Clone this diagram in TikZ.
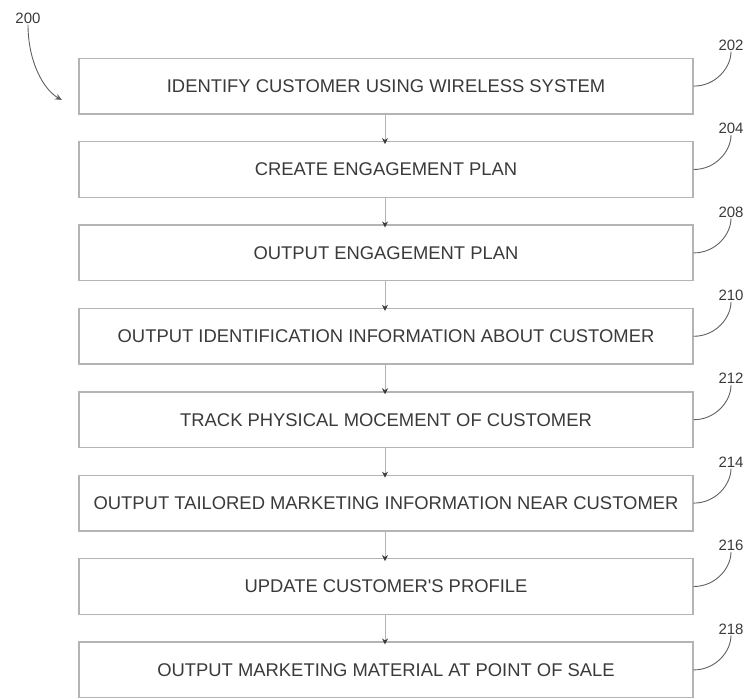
\documentclass[tikz,border=0pt]{standalone}
\usepackage{fontspec}
\setmainfont{Liberation Sans}
\usetikzlibrary{arrows.meta}
\definecolor{inkgray}{HTML}{3A3A3A}
\definecolor{framegray}{HTML}{B4B4B4}
\begin{document}
\begin{tikzpicture}[x=1pt,y=-1pt,
  stepbox/.style={draw=framegray,line width=1.4pt,minimum width=614pt,minimum height=55.5pt,
    inner sep=0pt,font=\fontsize{18.4}{21}\selectfont,text=inkgray,fill=white},
  reflabel/.style={font=\fontsize{15}{17}\selectfont,text=inkgray,inner sep=1pt},
  leader/.style={draw=inkgray!80,line width=0.9pt},
  flow/.style={draw=framegray,line width=0.8pt,-{Stealth[length=6pt,width=6pt,inkgray]}}]
\useasboundingbox (0,0) rectangle (751,698);
% process steps, one box per step, evenly stacked
\foreach \i/\txt/\num in {
  1/IDENTIFY CUSTOMER USING WIRELESS SYSTEM/202,
  2/CREATE ENGAGEMENT PLAN/204,
  3/OUTPUT ENGAGEMENT PLAN/208,
  4/OUTPUT IDENTIFICATION INFORMATION ABOUT CUSTOMER/210,
  5/TRACK PHYSICAL MOCEMENT OF CUSTOMER/212,
  6/OUTPUT TAILORED MARKETING INFORMATION NEAR CUSTOMER/214,
  7/UPDATE CUSTOMER\textquotesingle S PROFILE/216,
  8/OUTPUT MARKETING MATERIAL AT POINT OF SALE/218}{
  \pgfmathsetmacro{\my}{86.1+83.4*(\i-1)}
  \node[stepbox] (b\i) at (386,\my) {\txt};
  \node[reflabel] (r\i) at (731,\my-41) {\num};
  \draw[leader] (b\i.east) .. controls +(22,0) and +(0,16) .. (r\i.south);
}
% connectors between consecutive steps
\foreach \i [evaluate=\i as \j using int(\i+1)] in {1,...,7}{
  \draw[flow] ([xshift=-1pt]b\i.south) -- ([xshift=-1pt,yshift=-3pt]b\j.north);
}
% figure number with its pointer
\node[reflabel] (fig) at (28,18) {200};
\coordinate (figtip) at (62,100);
\draw[leader,-{Stealth[length=7pt,width=6pt]}] (fig.south) .. controls +(0,38) and +(-18,-10) .. (figtip);
\end{tikzpicture}
\end{document}
